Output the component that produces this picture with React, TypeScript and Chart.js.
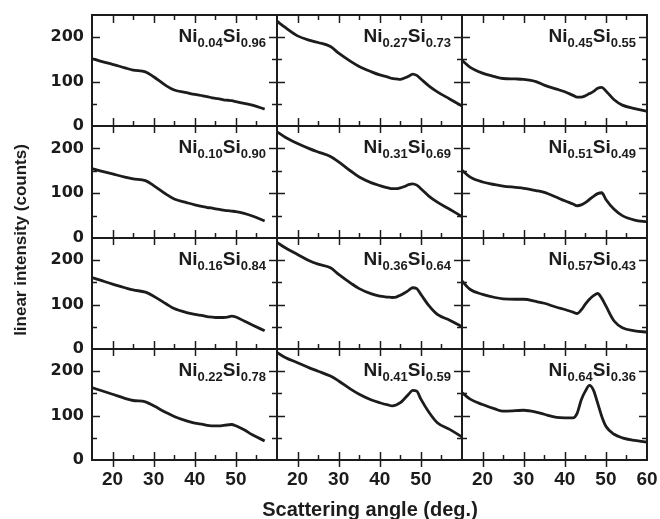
import React, { useEffect, useRef } from 'react';
import { Chart, registerables } from 'chart.js';

Chart.register(...registerables);

// ---- data ----
const ANGLES = [15, 17, 20, 23, 25, 28, 30, 33, 35, 38, 40, 42, 43, 44, 45, 46, 47, 48, 49, 50, 52, 54, 57, 60];

const NI004 = [152, 146, 139, 131, 126, 122, 111, 91, 81, 75, 71, 68, 66, 64, 62, 61, 59, 58, 57, 55, 51, 47, 38, null];
const NI010 = [155, 150, 143, 136, 132, 128, 117, 98, 87, 79, 74, 70, 68, 67, 65, 64, 62, 61, 60, 59, 55, 49, 38, null];
const NI016 = [161, 155, 146, 138, 133, 128, 119, 102, 91, 82, 78, 75, 73, 72, 71, 71, 71, 72, 74, 72, 63, 54, 41, null];
const NI022 = [163, 157, 148, 139, 134, 131, 122, 107, 98, 88, 83, 80, 78, 77, 77, 77, 78, 79, 80, 77, 68, 57, 43, null];
const NI027 = [236, 222, 203, 193, 188, 179, 164, 145, 134, 122, 115, 110, 107, 106, 105, 108, 112, 117, 114, 106, 90, 77, 61, 45];
const NI031 = [237, 225, 211, 199, 192, 182, 170, 149, 136, 123, 117, 112, 110, 110, 112, 115, 119, 121, 118, 110, 93, 80, 64, 48];
const NI036 = [240, 228, 213, 198, 191, 183, 168, 148, 136, 124, 119, 117, 116, 117, 121, 126, 132, 138, 136, 123, 97, 78, 65, 50];
const NI041 = [242, 231, 219, 207, 200, 189, 178, 159, 148, 135, 129, 124, 122, 124, 129, 138, 148, 157, 155, 137, 107, 84, 69, 52];
const NI045 = [148, 132, 119, 111, 107, 106, 105, 100, 92, 83, 77, 69, 65, 65, 68, 73, 78, 85, 87, 79, 59, 47, 39, 33];
const NI051 = [151, 136, 125, 119, 116, 113, 111, 106, 102, 91, 83, 76, 72, 74, 79, 86, 93, 99, 101, 86, 64, 50, 40, 36];
const NI057 = [153, 134, 123, 116, 113, 112, 112, 107, 103, 94, 89, 83, 80, 88, 101, 112, 120, 125, 114, 97, 63, 48, 41, 38];
const NI064 = [152, 137, 125, 115, 110, 111, 112, 108, 103, 96, 95, 95, 105, 135, 155, 168, 157, 128, 98, 76, 58, 50, 44, 40];

// column-major: [column][row]
const SAMPLES = [
  [
    { ni: '0.04', si: '0.96', values: NI004 },
    { ni: '0.10', si: '0.90', values: NI010 },
    { ni: '0.16', si: '0.84', values: NI016 },
    { ni: '0.22', si: '0.78', values: NI022 },
  ],
  [
    { ni: '0.27', si: '0.73', values: NI027 },
    { ni: '0.31', si: '0.69', values: NI031 },
    { ni: '0.36', si: '0.64', values: NI036 },
    { ni: '0.41', si: '0.59', values: NI041 },
  ],
  [
    { ni: '0.45', si: '0.55', values: NI045 },
    { ni: '0.51', si: '0.49', values: NI051 },
    { ni: '0.57', si: '0.43', values: NI057 },
    { ni: '0.64', si: '0.36', values: NI064 },
  ],
];

const X_MIN = 15;
const X_MAX = 60;
const Y_MIN = 0;
const Y_MAX = 250;
const X_LABELS = [20, 30, 40, 50];
const X_LABELS_LAST = [20, 30, 40, 50, 60];
const Y_LABELS = [0, 100, 200];
const X_MAJOR = [20, 30, 40, 50];
const X_MINOR = [25, 35, 45, 55];
const Y_MAJOR = [100, 200];
const Y_MINOR = [50, 150];

const X_TITLE = 'Scattering angle (deg.)';
const Y_TITLE = 'linear intensity (counts)';

// ---- layout ----
const W = 660;
const H = 519;
const COL_LEFT = [92, 277, 462];
const COL_RIGHT = [277, 462, 647];
const ROW_TOP = [15, 126, 238, 349];
const ROW_BOTTOM = [126, 238, 349, 460];
const YAXIS_W = 60;
const XAXIS_H = 40;
const INK = '#1c1c1c';
const SANS = '"Liberation Sans", Arial, Helvetica, sans-serif';

function framePlugin(col: number, row: number, ni: string, si: string) {
  return {
    id: 'frame_' + col + '_' + row,
    afterDatasetsDraw(chart: any) {
      const { ctx, chartArea: a, scales } = chart;
      const x = scales.x;
      const y = scales.y;
      ctx.save();
      ctx.strokeStyle = INK;
      ctx.lineWidth = 2;
      ctx.strokeRect(a.left, a.top, a.right - a.left, a.bottom - a.top);
      ctx.lineWidth = 1.5;
      ctx.beginPath();
      for (const v of X_MAJOR) {
        const px = Math.round(x.getPixelForValue(v)) + 0.5;
        ctx.moveTo(px, a.bottom - 8);
        ctx.lineTo(px, a.bottom + 7);
        if (row === 0) {
          ctx.moveTo(px, a.top);
          ctx.lineTo(px, a.top + 8);
        }
      }
      for (const v of X_MINOR) {
        const px = Math.round(x.getPixelForValue(v)) + 0.5;
        ctx.moveTo(px, a.bottom - 5);
        ctx.lineTo(px, a.bottom);
        if (row === 0) {
          ctx.moveTo(px, a.top);
          ctx.lineTo(px, a.top + 5);
        }
      }
      for (const v of Y_MAJOR) {
        const py = Math.round(y.getPixelForValue(v)) + 0.5;
        ctx.moveTo(a.left, py);
        ctx.lineTo(a.left + 8, py);
        ctx.moveTo(a.right, py);
        ctx.lineTo(a.right - 8, py);
      }
      for (const v of Y_MINOR) {
        const py = Math.round(y.getPixelForValue(v)) + 0.5;
        ctx.moveTo(a.left, py);
        ctx.lineTo(a.left + 5, py);
        ctx.moveTo(a.right, py);
        ctx.lineTo(a.right - 5, py);
      }
      ctx.stroke();

      // panel label  Ni_x Si_y
      const big = 'bold 19px ' + SANS;
      const small = 'bold 13px ' + SANS;
      const parts: [string, string, number][] = [
        ['Ni', big, 0],
        [ni, small, 5],
        ['Si', big, 0],
        [si, small, 5],
      ];
      let total = 0;
      const widths = parts.map(([t, f]) => {
        ctx.font = f;
        const w = ctx.measureText(t).width;
        total += w;
        return w;
      });
      let cx = a.right - 11 - total;
      const base = a.top + 27;
      ctx.fillStyle = INK;
      ctx.textBaseline = 'alphabetic';
      ctx.textAlign = 'left';
      parts.forEach(([t, f, dy], i) => {
        ctx.font = f;
        ctx.fillText(t, cx, base + dy);
        cx += widths[i];
      });
      ctx.restore();
    },
  };
}

function Panel({ col, row }: { col: number; row: number }) {
  const ref = useRef<HTMLCanvasElement | null>(null);
  useEffect(() => {
    const s = SAMPLES[col][row];
    const isLeft = col === 0;
    const isBottom = row === 3;
    const chart = new Chart(ref.current as HTMLCanvasElement, {
      type: 'line',
      data: {
        datasets: [
          {
            data: ANGLES.map((a, i) => ({ x: a, y: s.values[i] })),
            borderColor: INK,
            borderWidth: 2.8,
            pointRadius: 0,
            cubicInterpolationMode: 'monotone',
            fill: false,
          } as any,
        ],
      },
      options: {
        animation: false,
        responsive: false,
        maintainAspectRatio: false,
        events: [],
        layout: {
          padding: {
            left: isLeft ? COL_LEFT[col] - YAXIS_W : COL_LEFT[col],
            right: W - COL_RIGHT[col],
            top: ROW_TOP[row],
            bottom: isBottom ? H - ROW_BOTTOM[row] - XAXIS_H : H - ROW_BOTTOM[row],
          },
        },
        plugins: { legend: { display: false }, tooltip: { enabled: false } },
        scales: {
          x: {
            type: 'linear',
            min: X_MIN,
            max: X_MAX,
            display: isBottom,
            grid: { display: false, drawTicks: false },
            border: { display: false },
            ticks: {
              color: INK,
              font: { family: SANS, size: 19, weight: 'bold' },
              padding: 8,
              maxRotation: 0,
              autoSkip: false,
            },
            afterBuildTicks: (sc: any) => {
              sc.ticks = (col === 2 ? X_LABELS_LAST : X_LABELS).map((v) => ({ value: v }));
            },
            afterFit: (sc: any) => {
              sc.height = isBottom ? XAXIS_H : 0;
              sc.paddingLeft = 0;
              sc.paddingRight = 0;
            },
          },
          y: {
            type: 'linear',
            min: Y_MIN,
            max: Y_MAX,
            display: isLeft,
            grid: { display: false, drawTicks: false },
            border: { display: false },
            ticks: {
              color: INK,
              font: { family: '"DejaVu Sans", sans-serif', size: 16, weight: 'bold' },
              padding: 8,
              autoSkip: false,
            },
            afterBuildTicks: (sc: any) => {
              sc.ticks = Y_LABELS.map((v) => ({ value: v }));
            },
            afterFit: (sc: any) => {
              sc.width = isLeft ? YAXIS_W : 0;
              sc.paddingTop = 0;
              sc.paddingBottom = 0;
            },
          },
        },
      } as any,
      plugins: [framePlugin(col, row, s.ni, s.si)],
    });
    return () => chart.destroy();
  }, [col, row]);
  return (
    <canvas
      ref={ref}
      width={W}
      height={H}
      style={{ position: 'absolute', left: 0, top: 0, width: W, height: H }}
    />
  );
}

export default function App() {
  const panels: React.ReactNode[] = [];
  for (let c = 0; c < 3; c++) {
    for (let r = 0; r < 4; r++) {
      panels.push(<Panel key={c + '_' + r} col={c} row={r} />);
    }
  }
  return (
    <div
      style={{
        position: 'absolute',
        left: 0,
        top: 0,
        width: W,
        height: H,
        background: '#ffffff',
        overflow: 'hidden',
      }}
    >
      {panels}
      <div
        style={{
          position: 'absolute',
          left: 170,
          width: 400,
          top: 499,
          textAlign: 'center',
          font: 'bold 20px ' + SANS,
          lineHeight: '20px',
          color: INK,
          whiteSpace: 'nowrap',
        }}
      >
        {X_TITLE}
      </div>
      <div
        style={{
          position: 'absolute',
          left: 21 - 150,
          width: 300,
          top: 240 - 10,
          textAlign: 'center',
          font: 'bold 17px ' + SANS,
          lineHeight: '20px',
          color: INK,
          whiteSpace: 'nowrap',
          transform: 'rotate(-90deg)',
        }}
      >
        {Y_TITLE}
      </div>
    </div>
  );
}
